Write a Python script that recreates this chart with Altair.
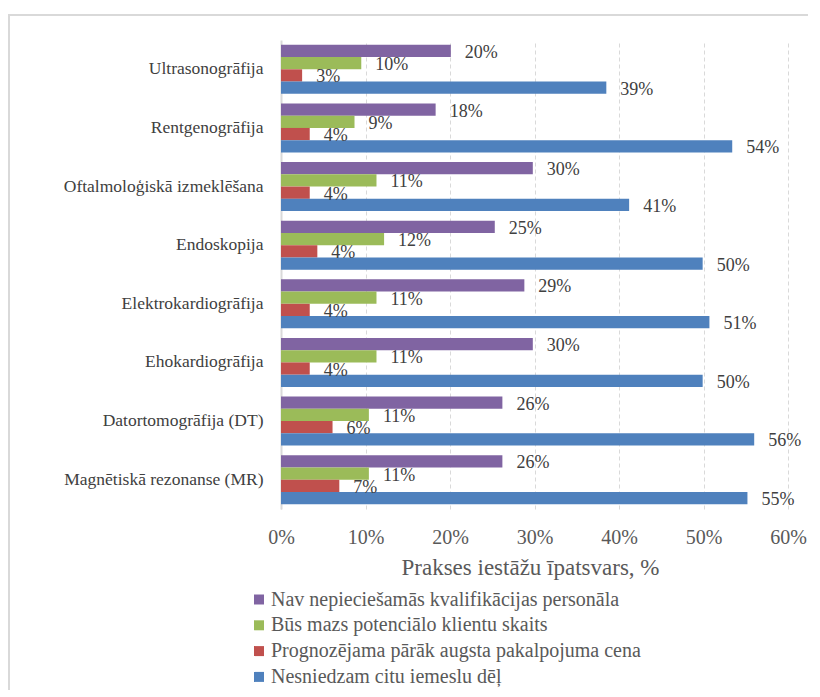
import altair as alt
import pandas as pd

categories = [
    "Ultrasonogrāfija",
    "Rentgenogrāfija",
    "Oftalmoloģiskā izmeklēšana",
    "Endoskopija",
    "Elektrokardiogrāfija",
    "Ehokardiogrāfija",
    "Datortomogrāfija (DT)",
    "Magnētiskā rezonanse (MR)",
]
series = [
    "Nav nepieciešamās kvalifikācijas personāla",
    "Būs mazs potenciālo klientu skaits",
    "Prognozējama pārāk augsta pakalpojuma cena",
    "Nesniedzam citu iemeslu dēļ",
]
colors = ["#8064A2", "#9BBB59", "#C0504D", "#4F81BD"]

nav_values = [20.1, 18.3, 29.8, 25.3, 28.8, 29.8, 26.2, 26.2]
bus_values = [9.5, 8.7, 11.3, 12.2, 11.3, 11.3, 10.4, 10.4]
prog_values = [2.5, 3.4, 3.4, 4.3, 3.4, 3.4, 6.1, 6.9]
nesn_values = [38.5, 53.4, 41.2, 49.9, 50.7, 49.9, 56.0, 55.2]

nav_labels = [20, 18, 30, 25, 29, 30, 26, 26]
bus_labels = [10, 9, 11, 12, 11, 11, 11, 11]
prog_labels = [3, 4, 4, 4, 4, 4, 6, 7]
nesn_labels = [39, 54, 41, 50, 51, 50, 56, 55]

x_ticks = [0, 10, 20, 30, 40, 50, 60]

rows = []
for s, vals, labs in zip(
    series,
    [nav_values, bus_values, prog_values, nesn_values],
    [nav_labels, bus_labels, prog_labels, nesn_labels],
):
    for c, v, l in zip(categories, vals, labs):
        rows.append({"cat": c, "series": s, "value": v, "label": f"{l}%"})
df = pd.DataFrame(rows)

FONT = "Liberation Serif, Times New Roman, serif"

y_enc = alt.Y(
    "cat:N",
    sort=categories,
    title=None,
    scale=alt.Scale(paddingInner=0.164, paddingOuter=0.082),
    axis=alt.Axis(
        labelFont=FONT,
        labelFontSize=17.5,
        labelColor="#404040",
        labelPadding=18,
        ticks=False,
        domain=True,
        domainColor="#d9d9d9",
        domainWidth=2,
        grid=False,
        labelLimit=400,
    ),
)
yo_enc = alt.YOffset(
    "series:N", sort=series, scale=alt.Scale(paddingInner=0, paddingOuter=0)
)
x_enc = alt.X(
    "value:Q",
    scale=alt.Scale(domain=[0, 60], nice=False, zero=True),
    title="Prakses iestāžu īpatsvars, %",
    axis=alt.Axis(
        values=x_ticks,
        labelExpr="datum.value + '%'",
        labelFlush=False,
        grid=True,
        gridColor="#d9d9d9",
        gridDash=[4, 3],
        gridWidth=1,
        domain=False,
        ticks=False,
        tickSize=0,
        labelFont=FONT,
        labelFontSize=20,
        labelColor="#595959",
        labelPadding=28,
        labelBaseline="middle",
        titleFont=FONT,
        titleFontSize=23,
        titleFontWeight="normal",
        titleColor="#595959",
        titleX=249,
        titleY=58,
        titleBaseline="middle",
    ),
)

bars = alt.Chart(df).mark_bar().encode(
    x=x_enc,
    y=y_enc,
    yOffset=yo_enc,
    color=alt.Color(
        "series:N",
        sort=series,
        scale=alt.Scale(domain=series, range=colors),
        legend=alt.Legend(
            title=None,
            orient="none",
            legendX=-32,
            legendY=549.5,
            symbolType="square",
            symbolSize=100,
            symbolStrokeWidth=0,
            labelFont=FONT,
            labelFontSize=20,
            labelColor="#595959",
            labelOffset=2,
            rowPadding=5.8,
            padding=0,
            labelLimit=700,
        ),
    ),
)

texts = alt.Chart(df).mark_text(
    align="left", baseline="middle", dx=14, dy=2, font=FONT, fontSize=18, color="#404040"
).encode(
    x=alt.X("value:Q"),
    y=alt.Y("cat:N", sort=categories),
    yOffset=alt.YOffset("series:N", sort=series),
    text="label:N",
)

frame = alt.Chart(alt.Data(values=[{"a": 1}])).mark_rect(
    fillOpacity=0, stroke="#d9d9d9", strokeWidth=2
).encode(
    x=alt.value(-272), x2=alt.value(700), y=alt.value(-25), y2=alt.value(800)
)

chart = (
    alt.layer(frame, bars, texts)
    .properties(
        width=507,
        height=469,
        autosize=alt.AutoSizeParams(type="none"),
        padding={"left": 273, "top": 32, "right": 20, "bottom": 181},
    )
    .configure_view(stroke=None)
)

chart.save("out.html", embed_options={"renderer": "svg", "actions": False})
